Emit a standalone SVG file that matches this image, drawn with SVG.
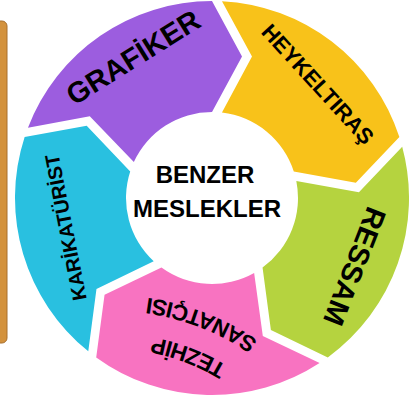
<svg xmlns="http://www.w3.org/2000/svg" width="409" height="403" viewBox="0 0 409 403">
  <style>
    .lbl { font-family: "Liberation Sans", Arial, sans-serif; font-weight: bold; fill: #000; text-anchor: middle; }
    .seg { stroke: none; }
  </style>
  <defs>
    <path id="arcLine2" d="M 339.8 430.0 A 261 261 0 0 0 26.5 309.7"/>
    <path id="arcLine1" d="M 306.5 448.4 A 223 223 0 0 0 38.9 345.6"/>
  </defs>
  <rect width="409" height="403" fill="#ffffff"/>
  <g id="side-bar">
    <rect x="-9" y="21" width="16" height="322" rx="5" fill="#D3923D" stroke="#A8702F" stroke-width="1"/>
  </g>
  <g id="grafiker">
    <path class="seg" fill="#9C5DDF" d="M 27.96 127.70 A 197 197 0 0 1 212 1 L 242 56.5 L 212 112 A 86 86 0 0 0 133.85 162.10 L 89.78 116.23 Z"/>
    <g transform="translate(133,57) rotate(-32)"><text class="lbl" x="0" y="10.4" font-size="29">GRAFİKER</text></g>
  </g>
  <g id="heykeltiras">
    <path class="seg" fill="#F8C21A" d="M 221.99 1.25 A 197 197 0 0 1 399.36 137.12 L 355.85 182.80 L 293.79 171.42 A 86 86 0 0 0 221.98 112.58 L 252 56.5 Z"/>
    <g transform="translate(318,84) rotate(47.5)"><text class="lbl" x="0" y="7.9" font-size="22">HEYKELTIRAŞ</text></g>
  </g>
  <g id="ressam">
    <path class="seg" fill="#B5D33F" d="M 402.21 146.71 A 197 197 0 0 1 327.79 357.38 L 270.90 330.11 L 262.55 267.58 A 86 86 0 0 0 296.32 181.09 L 358.94 192.31 Z"/>
    <g transform="translate(355,266.5) rotate(111.5)"><text class="lbl" x="0" y="10.4" font-size="29">RESSAM</text></g>
  </g>
  <g id="tezhip-sanatcisi">
    <path class="seg" fill="#F873C1" d="M 319.59 363.02 A 197 197 0 0 1 96.21 357.38 L 104.56 294.85 L 161.45 267.58 A 86 86 0 0 0 254.14 272.97 L 262.81 335.99 Z"/>
    <text class="lbl" font-size="22.5"><textPath href="#arcLine1" startOffset="50%">TEZHİP</textPath></text>
    <text class="lbl" font-size="22.5"><textPath href="#arcLine2" startOffset="50%">SANATÇISI</textPath></text>
  </g>
  <g id="karikaturist">
    <path class="seg" fill="#29C0E0" d="M 88.28 351.31 A 197 197 0 0 1 24.64 137.12 L 86.69 125.74 L 130.21 171.42 A 86 86 0 0 0 153.70 261.22 L 96.47 288.97 Z"/>
    <g transform="translate(65.4,227.5) rotate(-101)"><text class="lbl" x="0" y="7.2" font-size="20">KARİKATÜRİST</text></g>
  </g>
  <g id="benzer-meslekler">
    <text class="lbl" x="205" y="183" font-size="24">BENZER</text>
    <text class="lbl" x="207" y="217" font-size="24">MESLEKLER</text>
  </g>
</svg>
